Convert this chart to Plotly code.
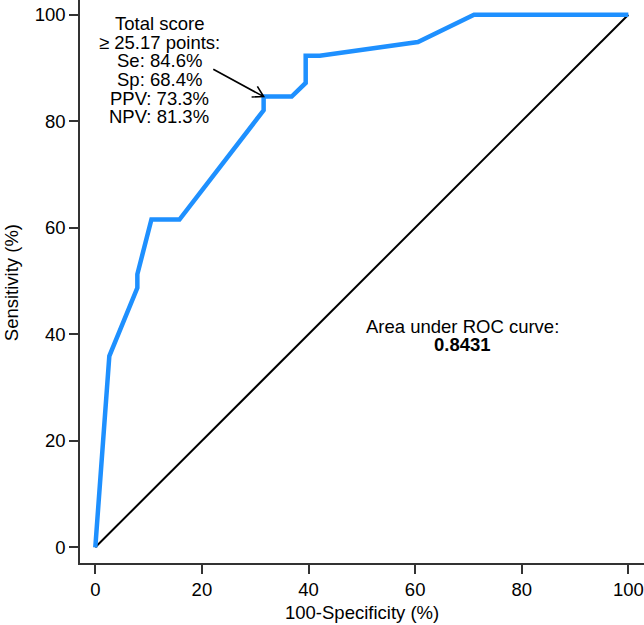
import math
import plotly.graph_objects as go

# ---- data ----
fpr = [0, 2.63, 7.89, 7.89, 10.53, 15.79, 31.58, 31.58, 36.84, 39.47, 39.47, 42.11, 60.53, 71.05, 100]
tpr = [0, 35.90, 48.72, 51.28, 61.54, 61.54, 82.05, 84.62, 84.62, 87.18, 92.31, 92.31, 94.87, 100, 100]
ref_x = [0, 100]
ref_y = [0, 100]
tick_vals = [0, 20, 40, 60, 80, 100]
tick_text = ["0", "20", "40", "60", "80", "100"]
cut_lines = ["Total score", "≥ 25.17 points:", "Se: 84.6%", "Sp: 68.4%", "PPV: 73.3%", "NPV: 81.3%"]
cut_point = (31.58, 84.62)
auc_label = "Area under ROC curve:"
auc_value = "0.8431"
x_title = "100-Specificity (%)"
y_title = "Sensitivity (%)"

FONT = "Liberation Sans, Arial, sans-serif"
FS = 18.5
W, H = 644, 625
ML, MR, MT, MB = 80, 0, 0, 62
XR = [-2.87, 102.94]
YR = [-2.95, 102.76]

fig = go.Figure()
fig.add_trace(go.Scatter(x=ref_x, y=ref_y, mode="lines",
                         line=dict(color="black", width=2), hoverinfo="skip"))
fig.add_trace(go.Scatter(x=fpr, y=tpr, mode="lines",
                         line=dict(color="#1E90FF", width=4.5), hoverinfo="skip"))

# text block lines
text_x = 12.0
text_y = [98.3, 94.8, 91.35, 87.9, 84.35, 80.85]
for t, yy in zip(cut_lines, text_y):
    fig.add_annotation(x=text_x, y=yy, xref="x", yref="y", text=t, showarrow=False,
                       xanchor="center", yanchor="middle",
                       font=dict(family=FONT, size=FS, color="black"))

# arrow (open arrowhead like base R)
pw = W - ML - MR
ph = H - MT - MB
kx = pw / (XR[1] - XR[0])
ky = ph / (YR[1] - YR[0])
tail = (22.14, 89.75)
tip = cut_point
dx = (tip[0] - tail[0]) * kx
dy = -(tip[1] - tail[1]) * ky
L = math.hypot(dx, dy)
ux, uy = dx / L, dy / L
wing = 12
pts = []
for ang in (math.radians(30), math.radians(-30)):
    rx = ux * math.cos(ang) - uy * math.sin(ang)
    ry = ux * math.sin(ang) + uy * math.cos(ang)
    wx = tip[0] - wing * rx / kx
    wy = tip[1] + wing * ry / ky
    pts.append((wx, wy))
path = (f"M {tail[0]},{tail[1]} L {tip[0]},{tip[1]} "
        f"M {pts[0][0]},{pts[0][1]} L {tip[0]},{tip[1]} L {pts[1][0]},{pts[1][1]}")
fig.add_shape(type="path", path=path, xref="x", yref="y",
              line=dict(color="black", width=1.6))

# AUC text
fig.add_annotation(x=68.9, y=41.4, xref="x", yref="y", text=auc_label, showarrow=False,
                   xanchor="center", yanchor="middle",
                   font=dict(family=FONT, size=FS, color="black"))
fig.add_annotation(x=68.9, y=38.0, xref="x", yref="y", text="<b>" + auc_value + "</b>",
                   showarrow=False, xanchor="center", yanchor="middle",
                   font=dict(family=FONT, size=FS, color="black"))

# axis titles
fig.add_annotation(x=0.5, y=-(612 - ph) / ph, xref="paper", yref="paper", text=x_title,
                   showarrow=False, xanchor="center", yanchor="middle",
                   font=dict(family=FONT, size=FS, color="black"))
fig.add_annotation(x=(11 - ML) / pw, y=0.497, xref="paper", yref="paper", text=y_title,
                   showarrow=False, xanchor="center", yanchor="middle", textangle=-90,
                   font=dict(family=FONT, size=FS, color="black"))

axis_common = dict(showline=True, linecolor="#333333", linewidth=1.5,
                   ticks="outside", ticklen=9, tickwidth=1.5, tickcolor="#333333",
                   showgrid=False, zeroline=False, tickvals=tick_vals, ticktext=tick_text,
                   tickfont=dict(family=FONT, size=FS, color="black"))
fig.update_xaxes(range=XR, **axis_common)
fig.update_yaxes(range=YR, **axis_common)

fig.update_layout(width=W, height=H, margin=dict(l=ML, r=MR, t=MT, b=MB, pad=0),
                  plot_bgcolor="white", paper_bgcolor="white", showlegend=False,
                  font=dict(family=FONT, size=FS, color="black"))
fig.write_html("out.html")
